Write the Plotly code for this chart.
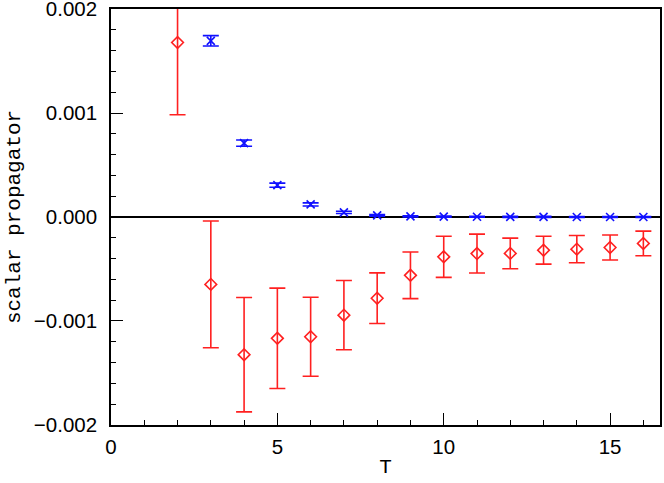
import plotly.graph_objects as go

# red series (diamonds)
t_red = [2, 3, 4, 5, 6, 7, 8, 9, 10, 11, 12, 13, 14, 15, 16]
y_red = [0.001678, -0.000648, -0.001324, -0.001167, -0.001152, -0.000944, -0.000781,
         -0.000561, -0.000383, -0.000352, -0.000350, -0.000319, -0.000309, -0.000293, -0.000254]
e_red = [0.000695, 0.000610, 0.000550, 0.000483, 0.000380, 0.000333, 0.000244,
         0.000224, 0.000198, 0.000187, 0.000147, 0.000134, 0.000131, 0.000120, 0.000118]

# blue series (crosses)
t_blue = [3, 4, 5, 6, 7, 8, 9, 10, 11, 12, 13, 14, 15, 16]
y_blue = [0.001694, 0.000711, 0.000306, 0.000121, 0.000045, 0.000016, 0.000006,
          0.000003, 0.000002, 0.000001, 0.000001, 0.0, 0.0, 0.0]
e_blue = [0.000050, 0.000030, 0.000020, 0.000015, 0.000011, 0.000008, 0.000005,
          0.000005, 0.000005, 0.000005, 0.000005, 0.000005, 0.000005, 0.000005]

yticks = [-0.002, -0.001, 0, 0.001, 0.002]
ylabels = ["\u22120.002", "\u22120.001", "0.000", "0.001", "0.002"]

fig = go.Figure()

fig.add_trace(go.Scatter(
    x=t_red, y=y_red, mode="markers",
    marker=dict(symbol="diamond-open", size=9, color="#ff2020", line=dict(width=1.6)),
    error_y=dict(type="data", array=e_red, visible=True, color="#ff2020", thickness=1.6, width=8),
    showlegend=False))

fig.add_trace(go.Scatter(
    x=t_blue, y=y_blue, mode="markers",
    marker=dict(symbol="x-thin-open", size=8, color="#1010ff", line=dict(width=1.6, color="#1010ff")),
    error_y=dict(type="data", array=e_blue, visible=True, color="#1010ff", thickness=1.6, width=8),
    showlegend=False))

fig.update_xaxes(
    range=[0, 16.5], tickvals=[0, 5, 10, 15], ticks="inside", ticklen=12, tickwidth=1.3,
    tickcolor="black", showline=True, linecolor="black", linewidth=1.5, mirror=True,
    showgrid=False, zeroline=False, automargin=False, ticklabelstandoff=3,
    ticklabeloverflow="allow",
    minor=dict(ticks="inside", dtick=1, ticklen=5, tickwidth=1.2, tickcolor="black"),
    tickfont=dict(family="Liberation Sans", size=20.5, color="black"),
    title=dict(text="T", font=dict(family="Liberation Mono", size=21, color="black"), standoff=1))

fig.update_yaxes(
    range=[-0.0020005, 0.0020005], tickvals=yticks, ticktext=ylabels,
    ticks="inside", ticklen=12, tickwidth=1.3, tickcolor="black",
    showline=True, linecolor="black", linewidth=1.5, mirror=True,
    showgrid=False, zeroline=True, zerolinecolor="black", zerolinewidth=1.5,
    automargin=False, ticklabelstandoff=8, ticklabeloverflow="allow",
    minor=dict(ticks="inside", dtick=0.0002, tick0=0, ticklen=5, tickwidth=1.2, tickcolor="black"),
    tickfont=dict(family="Liberation Sans", size=20.5, color="black"),
    title=dict(text="scalar propagator", font=dict(family="Liberation Mono", size=21, color="black"), standoff=8))

fig.update_layout(
    width=664, height=483,
    margin=dict(l=111, r=4, t=9, b=58),
    plot_bgcolor="white", paper_bgcolor="white")

fig.write_html("out.html", config={"displayModeBar": False},
               post_script="document.body.style.margin='0';")
